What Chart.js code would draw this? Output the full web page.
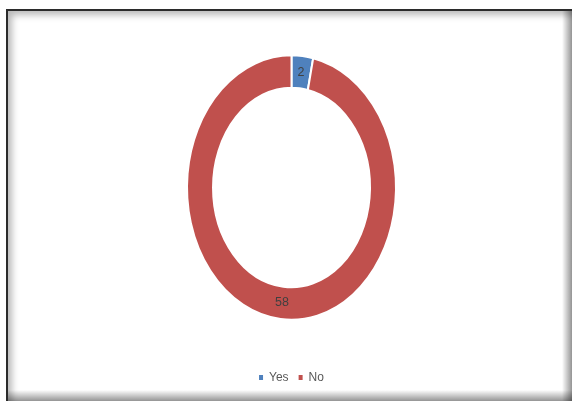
<!DOCTYPE html>
<html>
<head>
<meta charset="utf-8">
<script src="https://cdn.jsdelivr.net/npm/chart.js@4"></script>
<style>
  html, body { margin: 0; padding: 0; background: #fff; overflow: hidden; }
  #stage { position: relative; width: 572px; height: 401px; overflow: hidden; background: #fff; }
  #frame {
    position: absolute; left: 6px; top: 9px; width: 580px; height: 410px;
    border-left: 2px solid #2b2b2b; border-top: 2px solid #2b2b2b;
    box-shadow: inset 4px 4px 7px rgba(0,0,0,0.28);
    box-sizing: border-box;
  }
  #shadeR {
    position: absolute; right: 0; top: 11px; width: 10px; height: 400px;
    background: linear-gradient(to right, rgba(0,0,0,0), rgba(0,0,0,0.42));
  }
  #shadeB {
    position: absolute; left: 8px; bottom: 0; width: 570px; height: 11px;
    background: linear-gradient(to bottom, rgba(0,0,0,0), rgba(0,0,0,0.42));
  }
  canvas { position: absolute; left: 0; top: 0; }
</style>
</head>
<body>
<div id="stage">
  <div id="frame"></div>
  <div id="shadeR"></div>
  <div id="shadeB"></div>
  <canvas id="c" width="572" height="401"></canvas>
</div>
<script>
const categories = ["Yes", "No"];
const values = [2, 58];
const colors = ["#4F81BD", "#C0504D"];

const SY = 1.268; // vertical stretch of the ring seen in the picture

const ellipsePlugin = {
  id: 'ellipse',
  beforeDatasetsDraw(chart) {
    const ctx = chart.ctx, a = chart.chartArea;
    const cx = (a.left + a.right) / 2, cy = (a.top + a.bottom) / 2;
    ctx.save();
    ctx.translate(cx, cy);
    ctx.scale(1, SY);
    ctx.translate(-cx, -cy);
  },
  afterDatasetsDraw(chart) {
    const ctx = chart.ctx, a = chart.chartArea;
    ctx.restore();
    const cy = (a.top + a.bottom) / 2;
    const meta = chart.getDatasetMeta(0);
    ctx.save();
    ctx.font = '12.5px "Liberation Sans", Arial, sans-serif';
    ctx.fillStyle = '#404040';
    ctx.textAlign = 'center';
    ctx.textBaseline = 'middle';
    meta.data.forEach((arc, i) => {
      const p = arc.tooltipPosition();
      const y = cy + (p.y - cy) * SY;
      ctx.fillText(String(chart.data.datasets[0].data[i]), p.x, y);
    });
    ctx.restore();
  }
};

new Chart(document.getElementById('c'), {
  type: 'doughnut',
  data: {
    labels: categories,
    datasets: [{
      data: values,
      backgroundColor: colors,
      borderColor: '#ffffff',
      borderWidth: 2,
      radius: 104.5,
      cutout: '75.1%'
    }]
  },
  options: {
    responsive: false,
    animation: false,
    devicePixelRatio: 1,
    layout: { padding: { top: 13.5, bottom: 7.5, left: 11, right: 0 } },
    plugins: {
      tooltip: { enabled: false },
      legend: {
        position: 'bottom',
        labels: {
          boxWidth: 4,
          boxHeight: 5,
          padding: 10,
          color: '#595959',
          font: { family: '"Liberation Sans", Arial, sans-serif', size: 12 },
          generateLabels(chart) {
            return Chart.overrides.doughnut.plugins.legend.labels.generateLabels(chart)
              .map(l => Object.assign(l, { lineWidth: 0 }));
          }
        }
      }
    }
  },
  plugins: [ellipsePlugin]
});
</script>
</body>
</html>
